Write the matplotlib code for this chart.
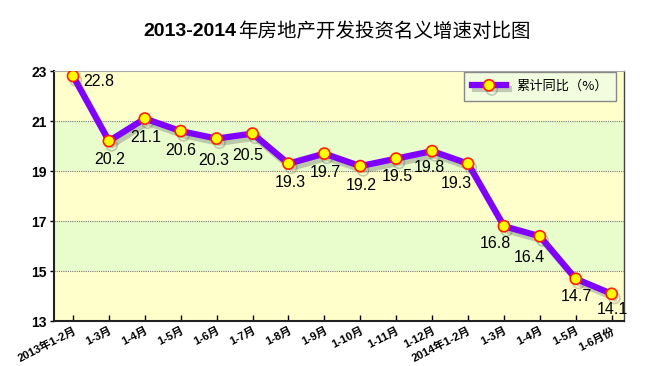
import matplotlib
matplotlib.use("Agg")
import matplotlib.pyplot as plt
import matplotlib.patheffects as pe

plt.rcParams['font.family'] = ['Liberation Sans', 'Noto Sans CJK SC', 'DejaVu Sans']

months = ['2013年1-2月', '1-3月', '1-4月', '1-5月', '1-6月', '1-7月', '1-8月',
          '1-9月', '1-10月', '1-11月', '1-12月', '2014年1-2月', '1-3月',
          '1-4月', '1-5月', '1-6月份']
growth = [22.8, 20.2, 21.1, 20.6, 20.3, 20.5, 19.3, 19.7, 19.2, 19.5, 19.8,
          19.3, 16.8, 16.4, 14.7, 14.1]
yticks = [13, 15, 17, 19, 21, 23]

# label offsets (pixels) from each point
offsets = [(26, -5), (1, -18), (1, -19), (0, -19), (-3, -22), (-5, -22),
           (2, -19), (1, -19), (1, -19), (1, -18), (-3, -16), (-12, -20),
           (-9, -17), (-10, -21), (1, -18), (1, -16)]

fig = plt.figure(figsize=(6.48, 3.66), dpi=100)
ax = fig.add_axes([0.0833, 0.122, 0.880, 0.684])

x = list(range(len(months)))

# alternating background bands
for i in range(len(yticks) - 1):
    c = '#ffffcc' if i % 2 == 0 else '#e8fccc'
    ax.axhspan(yticks[i], yticks[i + 1], color=c, zorder=0, lw=0)
for y in yticks[1:-1]:
    ax.axhline(y, color='#777777', lw=0.8, ls=(0, (1, 1)), zorder=1)

line, = ax.plot(x, growth, color='#7f00ff', lw=4.5, marker='o', ms=8,
                mfc='#ffff00', mec='#ff2000', mew=1.2, zorder=3,
                label='累计同比（%）')
line.set_path_effects([pe.SimpleLineShadow(offset=(2, -3), shadow_color='#555555', alpha=0.3),
                       pe.Normal()])

for xi, v, off in zip(x, growth, offsets):
    ax.annotate(f'{v:.1f}', (xi, v), xytext=off, textcoords='offset pixels',
                ha='center', va='center', fontsize=11.5, zorder=4)

ax.set_xlim(-0.53, 15.35)
ax.set_ylim(13, 23)
ax.set_yticks(yticks)
ax.set_yticklabels([str(t) for t in yticks], fontsize=10, fontweight='bold')
ax.set_xticks(x)
ax.set_xticklabels(months, rotation=27, ha='right', va='top',
                   rotation_mode='anchor', fontsize=8.1, fontweight='bold')
ax.tick_params(axis='x', direction='in', length=4, width=1, pad=3)
ax.tick_params(axis='y', direction='out', length=3, width=1, pad=2)

for s in ['left', 'bottom']:
    ax.spines[s].set_linewidth(1.5)
    ax.spines[s].set_color('#222222')
ax.spines['right'].set_color('#444444')
ax.spines['right'].set_linewidth(1.0)
ax.spines['top'].set_color('#aaaaaa')
ax.spines['top'].set_linewidth(0.8)

leg = ax.legend(loc='upper right', bbox_to_anchor=(0.986, 0.996), borderaxespad=0,
                prop={'family': ['Noto Sans CJK SC'], 'size': 9.5},
                handlelength=2.6, fancybox=False, framealpha=1,
                edgecolor='#888888', facecolor='#f2fde0', borderpad=0.6)

t1 = fig.text(0.222, 0.913, '2013-2014', fontsize=14, fontweight='bold',
              ha='left', va='center')
ax.annotate('年房地产开发投资名义增速对比图', xy=(1, 0.5), xycoords=t1,
            xytext=(1, 0), textcoords='offset pixels', ha='left', va='center',
            fontsize=14, family=['Noto Sans CJK SC'], annotation_clip=False)

fig.savefig('out.png', dpi=100, facecolor='white')
